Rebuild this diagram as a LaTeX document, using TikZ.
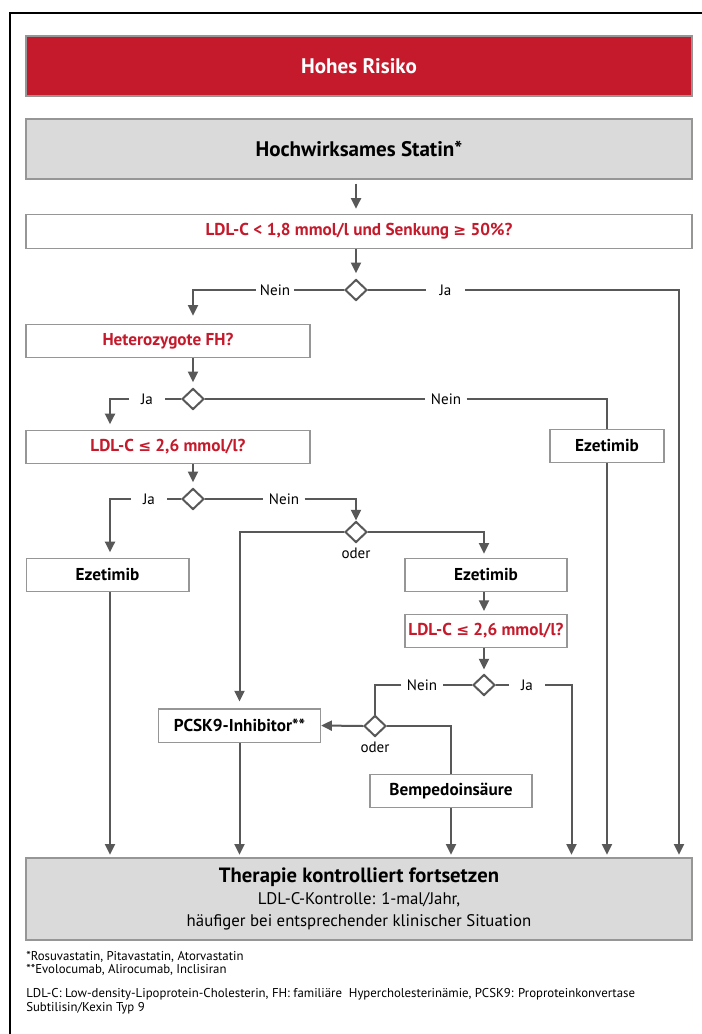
\documentclass[tikz,border=0pt]{standalone}
\usepackage{fontspec}
\setmainfont{PT Sans}
\newfontfamily\relfont{DejaVu Sans}
\usetikzlibrary{arrows.meta,shapes.geometric}
\definecolor{hrred}{RGB}{197,26,43}
\definecolor{boxfill}{RGB}{218,218,218}
\definecolor{boxline}{RGB}{150,150,150}
\definecolor{flowgray}{RGB}{88,88,88}
\newcommand{\rel}[1]{{\relfont\fontsize{11.5}{14}\selectfont #1}}
\begin{document}
\begin{tikzpicture}[x=0.75pt, y=-0.75pt, >={Triangle[length=8pt,width=7.5pt]}, font=\fontsize{11.3}{13}\selectfont]
	\tikzset{box/.style={draw=boxline, line width=1pt, fill=white, minimum height=25pt, inner sep=0pt, font=\fontsize{12.9}{14}\selectfont\bfseries},
		headbox/.style={box, minimum width=499.5pt, minimum height=45pt, font=\fontsize{15.8}{17}\selectfont\bfseries},
		question/.style={box, text=hrred},
		choice/.style={diamond, draw=flowgray, line width=1.5pt, fill=white, minimum width=16.5pt, minimum height=15.75pt, inner sep=0pt},
		flow/.style={draw=flowgray, line width=1.5pt},
		answer/.style={inner xsep=3pt, inner ysep=0pt, font=\fontsize{11.3}{13}\selectfont},
		note/.style={anchor=west, inner sep=0pt, align=left, font=\fontsize{9.6}{10.5}\selectfont}}
	\useasboundingbox (0,0) rectangle (702,1034);
	\draw[line width=1pt] (10,1034) -- (10,13) -- (702,13);
	\node[headbox, fill=hrred, text=white] (risiko) at (359,66) {Hohes Risiko};
	\node[headbox, fill=boxfill] (statin) at (359,149) {Hochwirksames Statin*};
	\node[question, minimum width=499.5pt] (ldlA) at (359,231.5) {LDL-C < 1,8 mmol/l und Senkung \rel{≥} 50\%?};
	\node[choice] (dA) at (356,290) {};
	\node[answer] (neinA) at (275,290) {Nein};
	\node[answer, inner xsep=10pt] (jaA) at (445.5,290) {Ja};
	\node[question, minimum width=213pt] (fh) at (168,341) {Heterozygote FH?};
	\node[choice] (dB) at (193,399) {};
	\node[answer, inner xsep=9pt] (jaB) at (147,399) {Ja};
	\node[answer, inner xsep=4pt] (neinB) at (446,399) {Nein};
	\node[box, minimum width=85.5pt] (ezeR) at (607,446) {Ezetimib};
	\node[question, minimum width=213pt] (ldlB) at (168,447) {LDL-C \rel{≤} 2,6 mmol/l?};
	\node[choice] (dC) at (193,499) {};
	\node[answer, inner xsep=9pt] (jaC) at (149,499) {Ja};
	\node[answer, inner xsep=4pt] (neinC) at (284,499) {Nein};
	\node[choice] (dD) at (356,532) {};
	\node[answer] (oderD) at (356,553) {oder};
	\node[box, minimum width=122pt] (ezeL) at (107.5,575) {Ezetimib};
	\node[box, minimum width=121.5pt] (ezeM) at (486,575) {Ezetimib};
	\node[question, minimum width=121.5pt] (ldlC) at (486,631) {LDL-C \rel{≤} 2,6 mmol/l?};
	\node[choice] (dE) at (484,685) {};
	\node[answer, inner xsep=4pt] (neinE) at (422,685) {Nein};
	\node[answer, inner xsep=9pt] (jaE) at (527,685) {Ja};
	\node[choice] (dF) at (375,726) {};
	\node[answer] (oderF) at (375,747) {oder};
	\node[box, minimum width=121.5pt] (pcsk) at (239.5,725.5) {PCSK9-Inhibitor**};
	\node[box, minimum width=121.5pt] (bempedo) at (451,791) {Bempedoinsäure};
	\node[box, fill=boxfill, minimum width=499.5pt, minimum height=61.5pt, align=center, font=\fontsize{12.6}{16.5}\selectfont] (therapie) at (359,899) {{\fontsize{15.5}{16.5}\selectfont\bfseries Therapie kontrolliert fortsetzen}\\LDL-C-Kontrolle: 1-mal/Jahr,\\häufiger bei entsprechender klinischer Situation};
	\node[note] (fnA) at (26,957) {*Rosuvastatin, Pitavastatin, Atorvastatin};
	\node[note] (fnB) at (26,970) {**Evolocumab, Alirocumab, Inclisiran};
	\node[note] (abbr) at (26,1001) {LDL-C: Low-density-Lipoprotein-Cholesterin, FH: familiäre\ \ Hypercholesterinämie, PCSK9: Proproteinkonvertase\\Subtilisin/Kexin Typ 9};
	\coordinate (colL) at (110,0);
	\coordinate (colM) at (571.5,0);
	\coordinate (colR) at (679,0);
	\draw[flow, ->, shorten <=3pt, shorten >=4pt] (dA |- statin.south) -- (dA |- ldlA.north);
	\draw[flow, ->, shorten >=4pt] (dA |- ldlA.south) -- (dA.north);
	\draw[flow] (dA.west) -- (neinA.east);
	\draw[flow, ->, shorten >=6pt] (neinA.west) -| (dB |- fh.north);
	\draw[flow] (dA.east) -- (jaA.west);
	\draw[flow, ->, shorten >=2pt] (jaA.east) -| (colR |- therapie.north);
	\draw[flow, ->, shorten >=4pt] (dB |- fh.south) -- (dB.north);
	\draw[flow] (dB.west) -- (jaB.east);
	\draw[flow, ->, shorten >=4pt] (jaB.west) -| (colL |- ldlB.north);
	\draw[flow] (dB.east) -- (neinB.west);
	\draw[flow] (neinB.east) -| (ezeR.north);
	\draw[flow, ->, shorten >=2pt] (ezeR.south) -- (ezeR |- therapie.north);
	\draw[flow, ->, shorten >=4pt] (dC |- ldlB.south) -- (dC.north);
	\draw[flow] (dC.west) -- (jaC.east);
	\draw[flow, ->, shorten >=4pt] (jaC.west) -| (colL |- ezeL.north);
	\draw[flow, ->, shorten >=2pt] (colL |- ezeL.south) -- (colL |- therapie.north);
	\draw[flow] (dC.east) -- (neinC.west);
	\draw[flow, ->] (neinC.east) -| (dD.north);
	\draw[flow, ->, shorten >=5pt] (dD.west) -| (pcsk.north);
	\draw[flow, ->, shorten >=3pt] (dD.east) -| (dE |- ezeM.north);
	\draw[flow, ->, shorten >=2pt] (dE |- ezeM.south) -- (dE |- ldlC.north);
	\draw[flow, ->, shorten >=3pt] (dE |- ldlC.south) -- (dE.north);
	\draw[flow] (dE.west) -- (neinE.east);
	\draw[flow] (neinE.west) -| (dF.north);
	\draw[flow] (dE.east) -- (jaE.west);
	\draw[flow, ->, shorten >=2pt] (jaE.east) -| (colM |- therapie.north);
	\draw[flow, ->] (dF.west) -- (pcsk.east);
	\draw[flow] (dF.east) -| (bempedo.north);
	\draw[flow, ->, shorten >=2pt] (pcsk.south) -- (pcsk |- therapie.north);
	\draw[flow, ->, shorten >=2pt] (bempedo.south) -- (bempedo |- therapie.north);
\end{tikzpicture}
\end{document}
